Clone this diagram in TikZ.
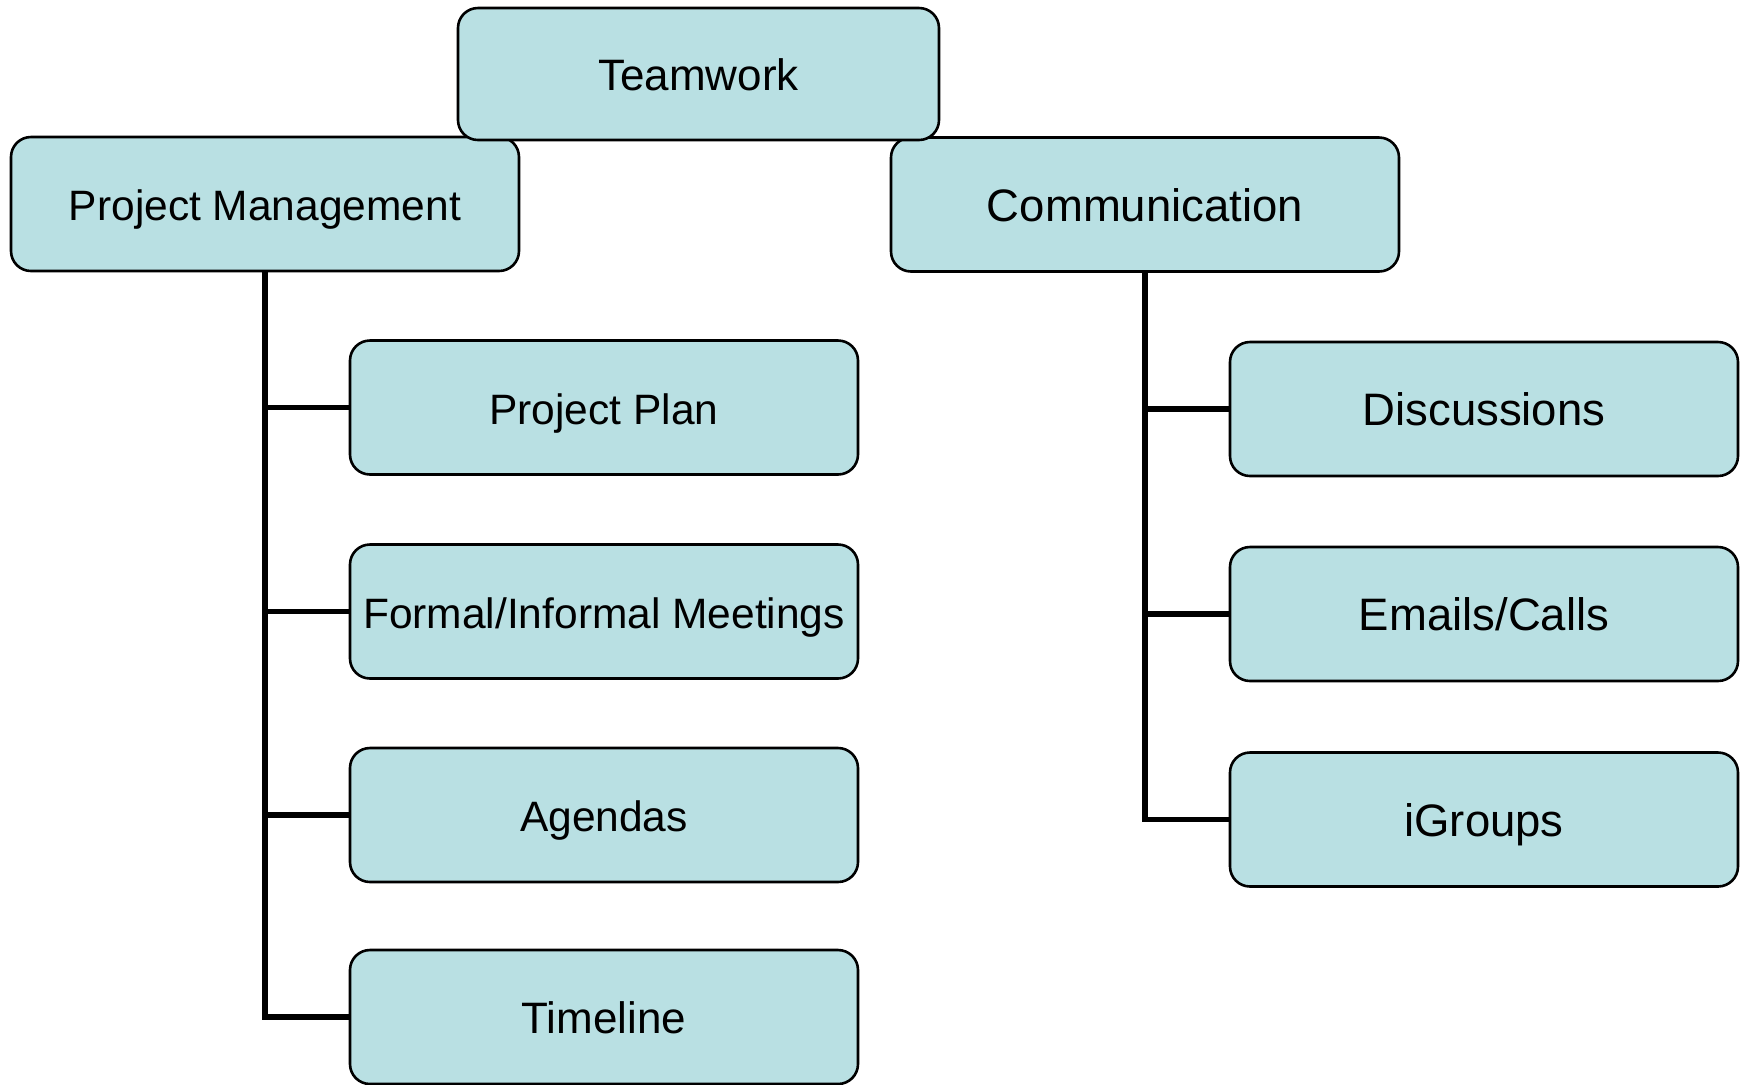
\documentclass[tikz,border=0pt]{standalone}
\usepackage{fontspec}
\setmainfont{Liberation Sans}
\definecolor{boxfill}{RGB}{185,224,227}
\begin{document}
\begin{tikzpicture}[x=0.5pt,y=-0.5pt,
  box/.style={draw=black, line width=1.3pt, fill=boxfill, rounded corners=10pt,
    minimum width=254pt, minimum height=67pt, inner sep=0pt,
    text height=19pt, text depth=2.4pt,
    font=\fontsize{21.25pt}{25pt}\selectfont},
  bigtext/.style={font=\fontsize{22.75pt}{27pt}\selectfont},
  midtext/.style={font=\fontsize{22pt}{26pt}\selectfont},
  conn/.style={draw=black, line width=2.7pt}]
\useasboundingbox (0,0) rectangle (1747,1084);
\coordinate (pmx) at (265,271);
\coordinate (cmx) at (1145,272);
\path (265,407.5) coordinate (b1) (265,611.5) coordinate (b2) (265,815) coordinate (b3) (265,1017) coordinate (b4);
\path (1145,409) coordinate (c1) (1145,614) coordinate (c2) (1145,819.5) coordinate (c3);
\node[box] (pp) at (604,407.5) {Project Plan};
\node[box] (fm) at (604,611.5) {Formal/Informal Meetings};
\node[box] (ag) at (604,815) {Agendas};
\node[box, midtext] (tl) at (604,1017) {Timeline};
\node[box, bigtext] (di) at (1484,409) {Discussions};
\node[box, bigtext] (em) at (1484,614) {Emails/Calls};
\node[box, bigtext] (ig) at (1484,819.5) {iGroups};
\draw[conn] (pmx) -- (b4) -- (tl.west);
\draw[conn] (b1) -- (pp.west);
\draw[conn] (b2) -- (fm.west);
\draw[conn] (b3) -- (ag.west);
\draw[conn] (cmx) -- (c3) -- (ig.west);
\draw[conn] (c1) -- (di.west);
\draw[conn] (c2) -- (em.west);
\node[box] (pm) at (265,204) {Project Management};
\node[box, bigtext] (cm) at (1145,204.5) {Communication};
\node[box, midtext, minimum width=240.5pt, minimum height=66pt] (tw) at (698.5,74) {Teamwork};
\end{tikzpicture}
\end{document}
